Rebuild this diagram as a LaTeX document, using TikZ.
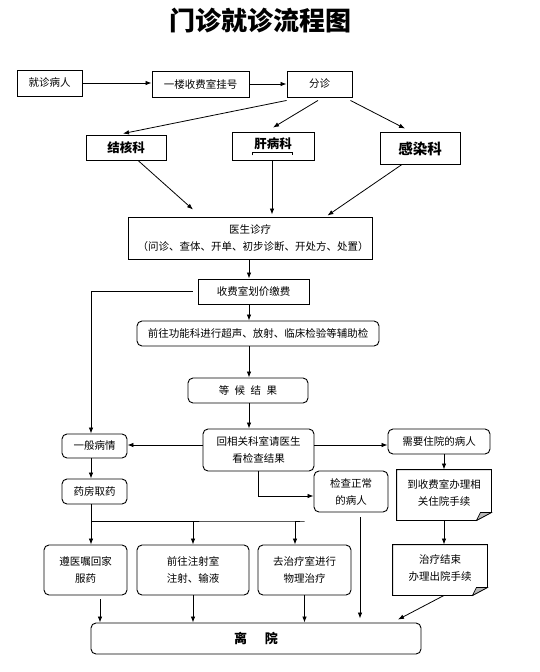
\documentclass[tikz,border=0pt]{standalone}
\usepackage{fontspec}
\setmainfont{Noto Sans CJK SC}
\usetikzlibrary{arrows.meta}

\tikzset{
	>={Latex[length=6pt,width=4.5pt]},
	box/.style={draw, line width=0.9pt, inner sep=0pt, align=center, font=\fontsize{10.5}{17}\selectfont},
	rbox/.style={box, rounded corners=5pt},
	dept/.style={box, font=\bfseries\fontsize{12.5}{14}\selectfont},
	doc/.style={box, draw=none},
	conn/.style={line width=0.8pt},
}

\begin{document}
\begin{tikzpicture}[x=1pt, y=-1pt]
	
		\useasboundingbox (0,0) rectangle (540,672);
		
		% title
		\node[font=\bfseries\fontsize{26}{30}\selectfont] (title) at (260,21) {门诊就诊流程图};
		
		% first row
		\node[box, minimum width=65pt, minimum height=26pt] (jzbr) at (49.5,83) {就诊病人};
		\node[box, minimum width=97pt, minimum height=26pt] (ylsf) at (200.5,84) {一楼收费室挂号};
		\node[box, minimum width=65pt, minimum height=26pt] (fz) at (319.5,84) {分诊};
		
		% departments
		\node[dept, minimum width=80pt, minimum height=25pt] (jhk) at (126,147.5) {结核科};
		\node[dept, minimum width=82pt, minimum height=28pt, text depth=6pt] (gbk) at (273,146) {肝病科};
		\node[dept, minimum width=80pt, minimum height=32pt, text depth=-2pt, font=\bfseries\fontsize{14.5}{16}\selectfont] (grk) at (420,148) {感染科};
		\draw[line width=0.6pt] ([xshift=-21pt,yshift=5pt]gbk.south) -- ++(0,-3) -- ++(40,0) -- ++(0,3);
		
		% centre column
		\coordinate (mid) at (249,0);
		\node[box, minimum width=244pt, minimum height=42pt] (yszl) at (250,238) {医生诊疗\\\hspace*{6pt}（问诊、查体、开单、初步诊断、开处方、处置）};
		\node[box, minimum width=111pt, minimum height=25pt] (sfs) at (253.5,291.5) {收费室划价缴费};
		\node[rbox, minimum width=242pt, minimum height=25pt] (qwgn) at (258,333.5) {前往功能科进行超声、放射、临床检验等辅助检};
		\node[rbox, minimum width=120pt, minimum height=25pt] (dhjg) at (248,390.5) {等\hspace{5.5pt}候\hspace{5.5pt}结\hspace{5.5pt}果};
		\node[rbox, minimum width=111pt, minimum height=42pt] (hxg) at (258.5,450) {回相关科室请医生\\看检查结果};
		
		% left branch
		\node[rbox, minimum width=65pt, minimum height=24pt] (ybbq) at (94.5,446) {一般病情};
		\node[rbox, minimum width=65pt, minimum height=25pt] (yfqy) at (94.5,491.5) {药房取药};
		\coordinate (br) at (91,521);
		\node[rbox, minimum width=83pt, minimum height=50pt] (hjfy) at (85.5,570) {遵医嘱回家\\服药};
		\node[rbox, minimum width=112pt, minimum height=50pt] (zss) at (193,570) {前往注射室\\注射、输液};
		\node[rbox, minimum width=93pt, minimum height=50pt] (zls) at (304.5,570) {去治疗室进行\\物理治疗};
		
		% right branch
		\node[rbox, minimum width=74pt, minimum height=41pt] (jczc) at (351,491.5) {检查正常\\的病人};
		\node[rbox, minimum width=102pt, minimum height=25pt] (xyzy) at (439,441.5) {需要住院的病人};
		\node[doc, minimum width=94pt, minimum height=50pt, text depth=4pt] (dsf) at (444,495) {到收费室办理相\\关住院手续};
		\node[doc, minimum width=94pt, minimum height=50pt, text depth=4pt] (cyss) at (440,570) {治疗结束\\办理出院手续};
		\draw[line width=0.9pt] (dsf.north west) -- (dsf.north east) -- ([yshift=8pt]dsf.south east) -- ([xshift=-15pt]dsf.south east) -- (dsf.south west) -- cycle;
		\filldraw[line width=0.6pt, fill=gray!55] ([yshift=8pt]dsf.south east) -- ([xshift=-15pt]dsf.south east) -- ([xshift=-11pt,yshift=8pt]dsf.south east) -- cycle;
		\draw[line width=0.9pt] (cyss.north west) -- (cyss.north east) -- ([yshift=8pt]cyss.south east) -- ([xshift=-15pt]cyss.south east) -- (cyss.south west) -- cycle;
		\filldraw[line width=0.6pt, fill=gray!55] ([yshift=8pt]cyss.south east) -- ([xshift=-15pt]cyss.south east) -- ([xshift=-11pt,yshift=8pt]cyss.south east) -- cycle;
		
		% leave
		\node[rbox, minimum width=330pt, minimum height=31pt, font=\bfseries\fontsize{13}{15}\selectfont] (ly) at (256,638.5) {离\hspace{18pt}院};
		
		% arrows, top
		\draw[conn,->] (jzbr.east) -- (ylsf.west |- jzbr.east);
		\draw[conn,->] (ylsf.east) -- (fz.west);
		\draw[conn,->] ([yshift=-3pt]fz.south west) -- ([xshift=-3pt,yshift=1pt]jhk.north);
		\draw[conn,->] ([xshift=-1.5pt,yshift=-3pt]fz.south) -- ([yshift=4pt]gbk.north);
		\draw[conn,->] ([xshift=-2pt,yshift=-3pt]fz.south east) -- ([xshift=-15pt,yshift=3pt]grk.north);
		\draw[conn,->] ([xshift=12pt]jhk.south) -- ([xshift=-57pt,yshift=7pt]yszl.north);
		\draw[conn,->] ([xshift=-1pt]gbk.south) -- ([xshift=-1pt,yshift=2pt]gbk.south |- yszl.north);
		\draw[conn,->] ([xshift=-18pt]grk.south) -- ([xshift=-45pt,yshift=1pt]yszl.north east);
		
		% arrows, centre column
		\draw[conn,->] (yszl.south -| mid) -- (sfs.north -| mid);
		\draw[conn,->] (sfs.south -| mid) -- (qwgn.north -| mid);
		\draw[conn,->] (qwgn.south -| mid) -- (dhjg.north -| mid);
		\draw[conn,->] (dhjg.south -| mid) -- (hxg.north -| mid);
		\draw[conn,->] ([xshift=-5pt]sfs.west) -| ([xshift=-3.5pt]ybbq.north);
		\draw[conn,->] ([yshift=5pt]hxg.west) -- ([yshift=5pt]hxg.west -| ybbq.east);
		\draw[conn,->] ([yshift=5pt]hxg.east) -- ([yshift=5pt]hxg.east -| xyzy.west);
		\draw[conn,->] (hxg.south) |- ([yshift=-4.5pt]jczc.west);
		
		% arrows, left
		\draw[conn,->] ([xshift=-3.5pt]ybbq.south) -- ([xshift=-3.5pt]yfqy.north);
		\draw[conn] ([xshift=-3.5pt]yfqy.south) -- (br) -- (br -| zls.north) -- ++(-9.5,0);
		\draw[conn,->] (br) -- (br |- hjfy.north);
		\draw[conn,->] (br -| zss.north) -- (zss.north);
		\draw[conn,->] ([xshift=-9.5pt]br -| zls.north) -- ([xshift=-9.5pt]zls.north);
		
		% arrows, right
		\draw[conn,->] (xyzy.south -| dsf.north) -- (dsf.north);
		\draw[conn,->] (dsf.south) -- (dsf.south |- cyss.north);
		
		% arrows, leave
		\draw[conn,->] ([xshift=14.5pt,yshift=-4pt]hjfy.south) -- ([xshift=14.5pt]hjfy.south |- ly.north);
		\draw[conn,->] (zss.south) -- (zss.south |- ly.north);
		\draw[conn,->] (zls.south) -- (zls.south |- ly.north);
		\draw[conn,->] ([xshift=9pt,yshift=-5pt]jczc.south) -- ([xshift=9pt,yshift=4pt]jczc.south |- ly.north);
		\draw[conn,->] ([xshift=4pt]cyss.south) -- ([xshift=142pt,yshift=3pt]ly.north);
	
	\end{tikzpicture}
\end{document}
